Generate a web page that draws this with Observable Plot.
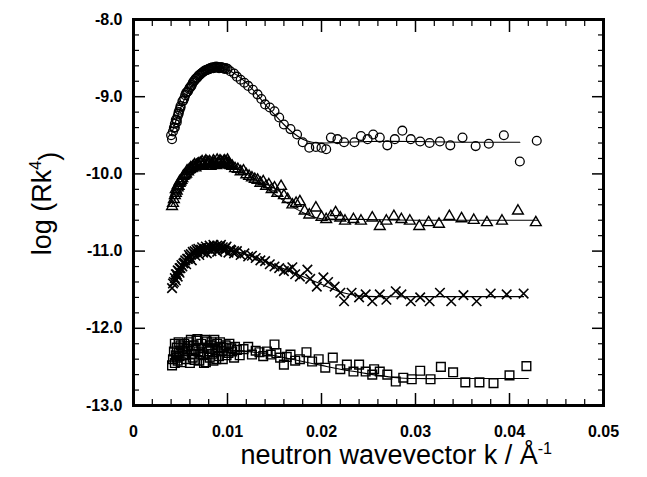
<!DOCTYPE html>
<html><head><meta charset="utf-8">
<script src="https://cdn.jsdelivr.net/npm/d3@7"></script>
<script src="https://cdn.jsdelivr.net/npm/@observablehq/plot@0.6"></script>
<style>body{margin:0;background:#fff}</style>
</head><body><div id="chart"></div>
<script>
// ---- data ----
const circleK = [0.0040,0.0041,0.0042,0.0043,0.0044,0.0045,0.0046,0.0047,0.0048,0.0049,0.0050,0.0052,0.0054,0.0055,0.0057,0.0059,0.0061,0.0063,0.0065,0.0067,0.0069,0.0071,0.0073,0.0075,0.0077,0.0079,0.0081,0.0083,0.0085,0.0087,0.0089,0.0091,0.0093,0.0095,0.0097,0.0100,0.0103,0.0107,0.0110,0.0114,0.0118,0.0122,0.0127,0.0132,0.0136,0.0140,0.0145,0.0150,0.0155,0.0160,0.0167,0.0174,0.0180,0.0187,0.0194,0.0200,0.0205,0.0210,0.0217,0.0224,0.0235,0.0242,0.0249,0.0255,0.0262,0.0270,0.0278,0.0286,0.0295,0.0305,0.0315,0.0326,0.0337,0.0350,0.0364,0.0378,0.0394,0.0411,0.0429];
const circleY = [-9.50,-9.55,-9.45,-9.40,-9.35,-9.30,-9.30,-9.25,-9.22,-9.17,-9.12,-9.06,-9.02,-8.98,-8.94,-8.90,-8.87,-8.82,-8.79,-8.76,-8.73,-8.71,-8.69,-8.67,-8.66,-8.65,-8.64,-8.63,-8.63,-8.62,-8.62,-8.63,-8.62,-8.63,-8.64,-8.64,-8.67,-8.70,-8.74,-8.78,-8.82,-8.86,-8.91,-8.97,-9.03,-9.10,-9.14,-9.19,-9.27,-9.36,-9.42,-9.49,-9.59,-9.66,-9.65,-9.66,-9.68,-9.53,-9.55,-9.59,-9.59,-9.51,-9.55,-9.49,-9.53,-9.63,-9.55,-9.44,-9.55,-9.58,-9.60,-9.58,-9.63,-9.53,-9.64,-9.61,-9.50,-9.84,-9.57];
const circleK2 = [0.0044,0.0046,0.0048,0.0050,0.0053,0.0056,0.0058,0.0060,0.0062,0.0064,0.0066,0.0068,0.0070,0.0072,0.0074,0.0076,0.0078,0.0080,0.0082,0.0084,0.0086,0.0088,0.0090,0.0092,0.0094,0.0096,0.0098];
const circleY2 = [-9.40,-9.33,-9.20,-9.14,-9.05,-8.95,-8.93,-8.88,-8.85,-8.80,-8.77,-8.75,-8.72,-8.70,-8.68,-8.66,-8.65,-8.64,-8.63,-8.62,-8.62,-8.61,-8.62,-8.62,-8.62,-8.63,-8.63];

const triK = [0.0041,0.0042,0.0043,0.0044,0.0045,0.0046,0.0047,0.0048,0.0049,0.0050,0.0052,0.0054,0.0056,0.0058,0.0060,0.0062,0.0064,0.0066,0.0068,0.0070,0.0072,0.0074,0.0076,0.0078,0.0080,0.0082,0.0084,0.0086,0.0088,0.0090,0.0092,0.0094,0.0096,0.0098,0.0100,0.0102,0.0105,0.0108,0.0111,0.0114,0.0117,0.0120,0.0123,0.0126,0.0129,0.0132,0.0135,0.0138,0.0141,0.0144,0.0147,0.0150,0.0153,0.0157,0.0160,0.0164,0.0169,0.0173,0.0177,0.0182,0.0187,0.0194,0.0200,0.0205,0.0210,0.0215,0.0220,0.0225,0.0234,0.0242,0.0254,0.0262,0.0269,0.0277,0.0285,0.0294,0.0304,0.0314,0.0325,0.0336,0.0349,0.0362,0.0376,0.0392,0.0409,0.0428];
const triY = [-10.42,-10.38,-10.33,-10.28,-10.25,-10.22,-10.18,-10.16,-10.12,-10.10,-10.06,-10.02,-10.00,-9.97,-9.94,-9.93,-9.90,-9.92,-9.88,-9.90,-9.86,-9.89,-9.85,-9.88,-9.86,-9.90,-9.87,-9.85,-9.89,-9.86,-9.83,-9.88,-9.84,-9.87,-9.82,-9.88,-9.90,-9.93,-9.94,-9.97,-9.96,-10.01,-10.03,-10.05,-10.07,-10.08,-10.12,-10.10,-10.16,-10.14,-10.20,-10.18,-10.25,-10.16,-10.28,-10.33,-10.40,-10.38,-10.36,-10.48,-10.53,-10.44,-10.56,-10.59,-10.55,-10.50,-10.57,-10.61,-10.59,-10.61,-10.57,-10.68,-10.61,-10.55,-10.59,-10.61,-10.68,-10.63,-10.65,-10.55,-10.58,-10.60,-10.63,-10.61,-10.48,-10.63];
const triK2 = [0.0045,0.0047,0.0049,0.0051,0.0053,0.0055,0.0057,0.0059,0.0061,0.0063,0.0065,0.0067,0.0069,0.0071,0.0073,0.0075,0.0077,0.0079,0.0081,0.0083,0.0085,0.0087,0.0089,0.0091,0.0093,0.0095,0.0097,0.0099,0.0101,0.0103];
const triY2 = [-10.20,-10.15,-10.10,-10.08,-10.03,-10.01,-9.96,-9.95,-9.92,-9.91,-9.88,-9.89,-9.87,-9.86,-9.84,-9.87,-9.83,-9.85,-9.84,-9.88,-9.83,-9.86,-9.82,-9.85,-9.84,-9.86,-9.83,-9.85,-9.86,-9.89];

const crossK = [0.0041,0.0042,0.0043,0.0044,0.0045,0.0046,0.0047,0.0048,0.0049,0.0050,0.0052,0.0054,0.0056,0.0058,0.0060,0.0062,0.0064,0.0066,0.0068,0.0070,0.0072,0.0074,0.0076,0.0078,0.0080,0.0083,0.0086,0.0089,0.0092,0.0095,0.0098,0.0101,0.0104,0.0107,0.0110,0.0114,0.0118,0.0122,0.0126,0.0130,0.0135,0.0140,0.0145,0.0150,0.0155,0.0160,0.0165,0.0169,0.0172,0.0177,0.0185,0.0188,0.0195,0.0202,0.0207,0.0214,0.0220,0.0224,0.0232,0.0240,0.0247,0.0254,0.0262,0.0269,0.0279,0.0285,0.0295,0.0305,0.0315,0.0326,0.0338,0.0351,0.0365,0.0380,0.0397,0.0415];
const crossY = [-11.48,-11.42,-11.40,-11.35,-11.38,-11.30,-11.33,-11.26,-11.28,-11.22,-11.20,-11.15,-11.17,-11.10,-11.08,-11.12,-11.03,-11.06,-11.00,-11.05,-10.98,-11.02,-10.97,-11.03,-10.96,-11.00,-10.95,-11.01,-10.94,-10.98,-10.96,-11.02,-10.99,-11.03,-11.00,-11.05,-11.03,-11.07,-11.06,-11.09,-11.12,-11.13,-11.17,-11.20,-11.22,-11.26,-11.24,-11.21,-11.30,-11.33,-11.24,-11.36,-11.46,-11.34,-11.40,-11.46,-11.54,-11.65,-11.54,-11.60,-11.56,-11.65,-11.56,-11.63,-11.52,-11.56,-11.65,-11.60,-11.65,-11.54,-11.65,-11.57,-11.65,-11.55,-11.56,-11.55];
const crossK2 = [0.0045,0.0047,0.0049,0.0051,0.0053,0.0055,0.0057,0.0059,0.0061,0.0063,0.0065,0.0067,0.0069,0.0071,0.0073,0.0075,0.0077,0.0079,0.0081,0.0083,0.0085,0.0087,0.0089,0.0091,0.0093,0.0095,0.0097,0.0099,0.0103,0.0107];
const crossY2 = [-11.30,-11.25,-11.22,-11.18,-11.16,-11.12,-11.10,-11.05,-11.04,-11.01,-11.00,-10.98,-10.97,-10.99,-10.95,-10.98,-10.94,-10.97,-10.93,-10.96,-10.92,-10.97,-10.93,-10.96,-10.92,-10.95,-10.99,-10.94,-10.98,-11.00];

const squareK = [0.0041,0.0042,0.0043,0.0044,0.0045,0.0046,0.0047,0.0048,0.0050,0.0051,0.0053,0.0054,0.0056,0.0057,0.0059,0.0060,0.0062,0.0064,0.0065,0.0067,0.0069,0.0070,0.0072,0.0074,0.0076,0.0077,0.0079,0.0081,0.0083,0.0085,0.0087,0.0089,0.0091,0.0093,0.0095,0.0098,0.0101,0.0104,0.0107,0.0110,0.0113,0.0117,0.0122,0.0126,0.0130,0.0134,0.0138,0.0142,0.0146,0.0150,0.0152,0.0156,0.0160,0.0163,0.0167,0.0172,0.0177,0.0184,0.0190,0.0197,0.0204,0.0212,0.0220,0.0227,0.0234,0.0240,0.0247,0.0254,0.0256,0.0262,0.0270,0.0279,0.0287,0.0296,0.0305,0.0316,0.0327,0.0340,0.0353,0.0368,0.0383,0.0400,0.0418];
const squareY = [-12.48,-12.40,-12.30,-12.45,-12.35,-12.25,-12.42,-12.32,-12.22,-12.44,-12.30,-12.20,-12.40,-12.27,-12.18,-12.45,-12.33,-12.22,-12.41,-12.16,-12.30,-12.42,-12.20,-12.35,-12.15,-12.44,-12.25,-12.38,-12.18,-12.42,-12.28,-12.20,-12.36,-12.24,-12.40,-12.22,-12.32,-12.26,-12.38,-12.28,-12.35,-12.27,-12.24,-12.34,-12.29,-12.31,-12.36,-12.30,-12.34,-12.21,-12.32,-12.38,-12.47,-12.37,-12.34,-12.42,-12.40,-12.31,-12.43,-12.40,-12.51,-12.38,-12.53,-12.47,-12.56,-12.47,-12.56,-12.60,-12.53,-12.56,-12.60,-12.69,-12.64,-12.66,-12.55,-12.66,-12.50,-12.57,-12.70,-12.70,-12.71,-12.61,-12.49];
const squareK2 = [0.0044,0.0046,0.0048,0.0049,0.0052,0.0055,0.0058,0.0061,0.0063,0.0066,0.0068,0.0071,0.0073,0.0075,0.0078,0.0080,0.0082,0.0084,0.0086,0.0088,0.0090,0.0092,0.0094,0.0096,0.0099,0.0102,0.0105,0.0108];
const squareY2 = [-12.20,-12.38,-12.18,-12.36,-12.25,-12.35,-12.23,-12.15,-12.38,-12.28,-12.14,-12.33,-12.26,-12.45,-12.17,-12.30,-12.22,-12.33,-12.15,-12.40,-12.26,-12.18,-12.30,-12.25,-12.35,-12.20,-12.30,-12.24];

// fitted curves
const circleFitK = [0.0040,0.0050,0.0060,0.0070,0.0080,0.0090,0.0100,0.0110,0.0120,0.0130,0.0140,0.0150,0.0160,0.0170,0.0180,0.0190,0.0200,0.0250,0.0300,0.0350,0.0411];
const circleFitY = [-9.50,-9.15,-8.90,-8.75,-8.66,-8.63,-8.65,-8.72,-8.82,-8.95,-9.10,-9.23,-9.36,-9.47,-9.55,-9.59,-9.60,-9.58,-9.58,-9.59,-9.59];
const triFitK = [0.0040,0.0050,0.0060,0.0070,0.0080,0.0090,0.0100,0.0110,0.0120,0.0130,0.0140,0.0150,0.0160,0.0170,0.0180,0.0190,0.0200,0.0250,0.0300,0.0350,0.0430];
const triFitY = [-10.42,-10.20,-10.03,-9.93,-9.88,-9.86,-9.88,-9.93,-10.00,-10.08,-10.17,-10.26,-10.35,-10.43,-10.50,-10.55,-10.58,-10.59,-10.60,-10.60,-10.60];
const crossFitK = [0.0040,0.0050,0.0060,0.0070,0.0080,0.0090,0.0100,0.0110,0.0120,0.0130,0.0140,0.0150,0.0160,0.0170,0.0180,0.0190,0.0200,0.0210,0.0220,0.0230,0.0240,0.0260,0.0300,0.0350,0.0415];
const crossFitY = [-11.45,-11.25,-11.12,-11.04,-11.00,-10.98,-10.99,-11.01,-11.04,-11.08,-11.13,-11.18,-11.23,-11.28,-11.33,-11.38,-11.43,-11.48,-11.53,-11.56,-11.58,-11.59,-11.59,-11.59,-11.59];
const squareFitK = [0.0040,0.0060,0.0080,0.0100,0.0120,0.0140,0.0160,0.0180,0.0200,0.0220,0.0240,0.0260,0.0280,0.0300,0.0350,0.0420];
const squareFitY = [-12.40,-12.30,-12.28,-12.28,-12.30,-12.33,-12.38,-12.43,-12.48,-12.53,-12.57,-12.61,-12.64,-12.65,-12.65,-12.65];

// axes
const xMajor = [0, 0.01, 0.02, 0.03, 0.04, 0.05];
const xTickLabels = ["0", "0.01", "0.02", "0.03", "0.04", "0.05"];
const xMinor = [0.002,0.004,0.006,0.008,0.012,0.014,0.016,0.018,0.022,0.024,0.026,0.028,0.032,0.034,0.036,0.038,0.042,0.044,0.046,0.048];
const yMajor = [-13, -12, -11, -10, -9, -8];
const yTickLabels = ["-13.0", "-12.0", "-11.0", "-10.0", "-9.0", "-8.0"];
const yMinor = [-12.8,-12.6,-12.4,-12.2,-11.8,-11.6,-11.4,-11.2,-10.8,-10.6,-10.4,-10.2,-9.8,-9.6,-9.4,-9.2,-8.8,-8.6,-8.4,-8.2];
const xTitle = ["neutron wavevector k / Å", "-1"];
const yTitle = ["log (Rk", "4", ")"];

const toRows = (K, Y) => K.map((k, i) => ({k, y: Y[i]}));
const font = "'Liberation Sans', Arial, Helvetica, sans-serif";

const series = [
  {pts: toRows(circleK, circleY).concat(toRows(circleK2, circleY2)), fit: toRows(circleFitK, circleFitY), symbol: "circle", r: 4.4, sw: 1.3},
  {pts: toRows(triK, triY).concat(toRows(triK2, triY2)), fit: toRows(triFitK, triFitY), symbol: "triangle", r: 4.0, sw: 1.4},
  {pts: toRows(crossK, crossY).concat(toRows(crossK2, crossY2)), fit: toRows(crossFitK, crossFitY), symbol: "times", r: 4.4, sw: 1.6},
  {pts: toRows(squareK, squareY).concat(toRows(squareK2, squareY2)), fit: toRows(squareFitK, squareFitY), symbol: "square", r: 4.9, sw: 1.4}
];

const marks = [];
for (const s of series) {
  marks.push(Plot.line(s.fit, {x: "k", y: "y", stroke: "black", strokeWidth: 1.1, curve: "catmull-rom"}));
  marks.push(Plot.dot(s.pts, {x: "k", y: "y", symbol: s.symbol, r: s.r, stroke: "black", fill: "none", strokeWidth: s.sw}));
}

const tickOpts = {fill: "none", label: null, stroke: "black"};
marks.push(
  Plot.axisY(yMajor, {anchor: "left", tickSize: -12, strokeWidth: 1.5, ...tickOpts}),
  Plot.axisY(yMinor, {anchor: "left", tickSize: -6, strokeWidth: 1.2, ...tickOpts}),
  Plot.axisY(yMajor, {anchor: "right", tickSize: -12, strokeWidth: 1.5, ...tickOpts}),
  Plot.axisY(yMinor, {anchor: "right", tickSize: -6, strokeWidth: 1.2, ...tickOpts}),
  Plot.axisX(xMajor, {anchor: "bottom", tickSize: -12, strokeWidth: 1.5, ...tickOpts}),
  Plot.axisX(xMinor, {anchor: "bottom", tickSize: -6, strokeWidth: 1.2, ...tickOpts}),
  Plot.axisX(xMajor, {anchor: "top", tickSize: -12, strokeWidth: 1.5, ...tickOpts}),
  Plot.axisX(xMinor, {anchor: "top", tickSize: -6, strokeWidth: 1.2, ...tickOpts}),
  Plot.axisY(yMajor, {anchor: "left", tickSize: 0, tickPadding: 11, label: null,
    tickFormat: d => yTickLabels[yMajor.indexOf(d)], fontSize: 16, fontWeight: "bold", fontFamily: font, fill: "black"}),
  Plot.axisX(xMajor, {anchor: "bottom", tickSize: 0, tickPadding: 20, label: null,
    tickFormat: d => xTickLabels[xMajor.indexOf(d)], fontSize: 16, fontWeight: "bold", fontFamily: font, fill: "black"}),
  Plot.text([yTitle.join("")], {frameAnchor: "left", textAnchor: "middle", lineAnchor: "middle", dx: -91, dy: -9, rotate: -90, fontSize: 27, fontFamily: font, fill: "black"}),
  Plot.text([xTitle.join("")], {frameAnchor: "bottom-left", textAnchor: "start", lineAnchor: "middle", dx: 107, dy: 50, fontSize: 27, fontFamily: font, fill: "black"}),
  Plot.frame({stroke: "black", strokeWidth: 3})
);

const chart = Plot.plot({
  width: 647,
  height: 477,
  marginLeft: 133,
  marginRight: 44,
  marginTop: 19,
  marginBottom: 72,
  style: {background: "white", color: "black", fontFamily: font},
  x: {domain: [0, 0.05], axis: null},
  y: {domain: [-13, -8], axis: null},
  marks
});

// superscripts in the axis titles
function withSuperscript(parts) {
  d3.select(chart).selectAll("text")
    .filter(function() { return this.textContent === parts.join(""); })
    .each(function() {
      const t = d3.select(this).text(null);
      t.append("tspan").text(parts[0]);
      t.append("tspan").attr("dy", "-0.6em").attr("font-size", "60%").text(parts[1]);
      if (parts[2]) t.append("tspan").attr("dy", "0.6em").text(parts[2]);
    });
}
withSuperscript(yTitle);
withSuperscript(xTitle);
document.getElementById("chart").appendChild(chart);
</script>
</body></html>
